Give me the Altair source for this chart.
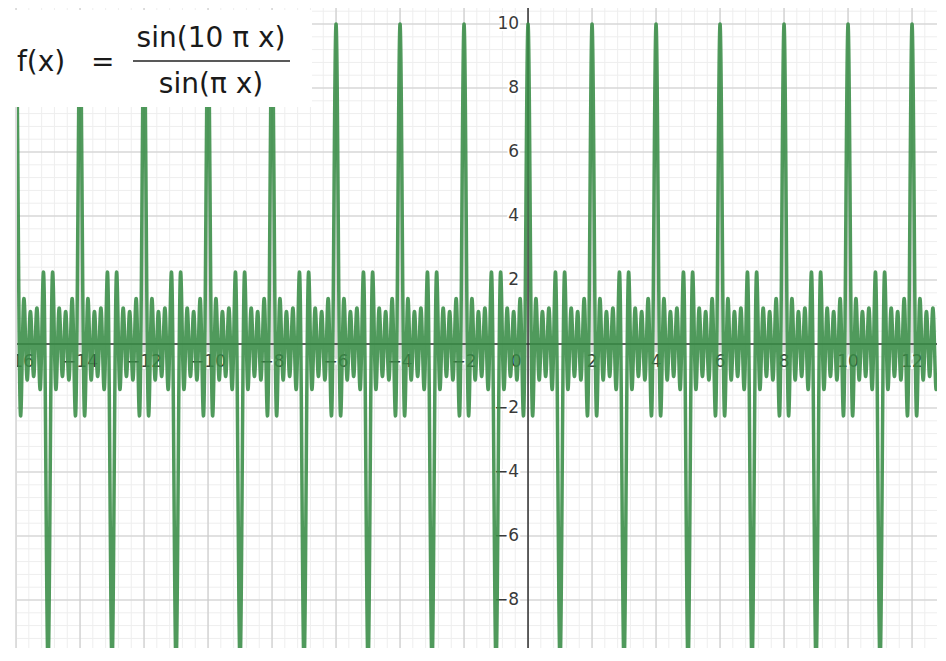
import numpy as np
import pandas as pd
import altair as alt

# ---- data ----
# function shown in the chart: f(x) = sin(10*pi*x) / sin(pi*x)
x_min, x_max = -15.97, 12.78
y_min, y_max = -9.5, 10.5
xs = np.arange(x_min, x_max, 0.0025) + 0.00125
ys = np.sin(10 * np.pi * xs) / np.sin(np.pi * xs)
curve = pd.DataFrame({"x": xs, "y": ys})

x_ticks = [-16, -14, -12, -10, -8, -6, -4, -2, 2, 4, 6, 8, 10, 12]
y_ticks = [10, 8, 6, 4, 2, -2, -4, -6, -8, -10]
major_x = list(range(-16, 14, 2))
major_y = list(range(-10, 12, 2))
minor_x = [round(v, 2) for v in np.arange(-16, 13.2, 0.4)]
minor_y = [round(v, 2) for v in np.arange(-10, 10.8, 0.4)]


def lab(v):
    return ("\u2212" + str(-v)) if v < 0 else str(v)


xlab = pd.DataFrame({"v": x_ticks, "t": [lab(v) for v in x_ticks], "z": 0})
ylab = pd.DataFrame({"v": y_ticks, "t": [lab(v) for v in y_ticks], "z": 0})
zlab = pd.DataFrame({"v": [0], "t": ["0"], "z": 0})

W, H = 920, 640
xs_ = alt.Scale(domain=[x_min, x_max], nice=False, zero=False)
ys_ = alt.Scale(domain=[y_min, y_max], nice=False, zero=False)

def vrules(vals, color, width):
    return alt.Chart(pd.DataFrame({"v": vals})).mark_rule(color=color, strokeWidth=width).encode(
        x=alt.X("v:Q", scale=xs_, axis=None))

def hrules(vals, color, width):
    return alt.Chart(pd.DataFrame({"v": vals})).mark_rule(color=color, strokeWidth=width).encode(
        y=alt.Y("v:Q", scale=ys_, axis=None))

minor = vrules(minor_x, "#eeeeee", 1) + hrules(minor_y, "#eeeeee", 1)
major = vrules(major_x, "#cccccc", 1.2) + hrules(major_y, "#cccccc", 1.2)
axes = vrules([0], "#333333", 1.5) + hrules([0], "#333333", 1.5)

FONT = "DejaVu Sans"

def labels(df, xfield, yfield, align, dx, dy):
    base = alt.Chart(df).encode(
        x=alt.X(f"{xfield}:Q", scale=xs_, axis=None),
        y=alt.Y(f"{yfield}:Q", scale=ys_, axis=None),
        text="t:N")
    kw = dict(align=align, baseline="middle", dx=dx, dy=dy, font=FONT, fontSize=17, clip=True)
    halo = base.mark_text(stroke="white", strokeWidth=4, fill="white", **kw)
    txt = base.mark_text(color="#3a3a3a", **kw)
    return halo + txt

xl = labels(xlab, "v", "z", "center", 0, 18)
yl = labels(ylab, "z", "v", "right", -9, 0)
zl = labels(zlab, "v", "z", "center", -12, 18)

line = alt.Chart(curve).mark_line(color="#388c46", strokeWidth=3.5, opacity=0.88,
                                  clip=True, strokeJoin="round").encode(
    x=alt.X("x:Q", scale=xs_, axis=None),
    y=alt.Y("y:Q", scale=ys_, axis=None))

box_df = pd.DataFrame({"a": [0]})
box = alt.Chart(box_df).mark_rect(color="white", opacity=1).encode(
    x=alt.value(-9), x2=alt.value(295), y=alt.value(2), y2=alt.value(99))

formula = pd.DataFrame({"lhs": ["f(x)"], "eq": ["="], "num": ["sin(10 \u03c0 x)"], "den": ["sin(\u03c0 x)"]})
fk = dict(font=FONT, fontSize=28, color="#1a1a1a", baseline="middle")
lhs = alt.Chart(formula).mark_text(align="left", **fk).encode(
    x=alt.value(0), y=alt.value(55), text="lhs:N")
eq = alt.Chart(formula).mark_text(align="left", **fk).encode(
    x=alt.value(74), y=alt.value(55), text="eq:N")
num = alt.Chart(formula).mark_text(align="center", **fk).encode(
    x=alt.value(194), y=alt.value(31), text="num:N")
den = alt.Chart(formula).mark_text(align="center", **fk).encode(
    x=alt.value(194), y=alt.value(77), text="den:N")
bar = alt.Chart(box_df).mark_rule(color="#222222", strokeWidth=1.6).encode(
    x=alt.value(116), x2=alt.value(273), y=alt.value(53))

chart = alt.layer(minor, major, axes, xl, yl, zl, line, box, lhs, eq, num, den, bar).properties(
    width=W, height=H,
    autosize="none",
    padding={"left": 9, "top": 0, "right": 0, "bottom": 0},
    background="white",
).configure_view(stroke=None)

chart.save("out.html", embed_options={"renderer": "svg", "actions": False})
